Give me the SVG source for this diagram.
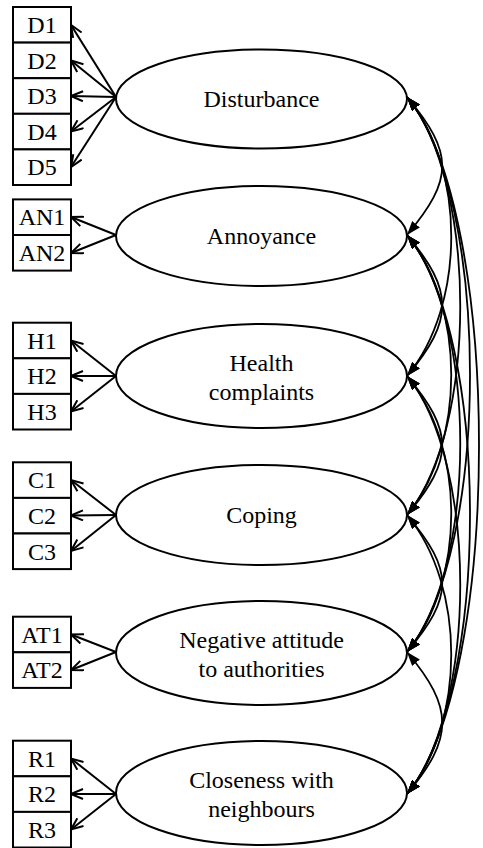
<svg xmlns="http://www.w3.org/2000/svg" width="483" height="848" viewBox="0 0 483 848">
<style>
.box{fill:#fff;stroke:#000;stroke-width:2}
.ell{fill:#fff;stroke:#000;stroke-width:2}
.t{font-family:'Liberation Serif','Times New Roman','DejaVu Serif',serif;font-size:24px;text-anchor:middle;fill:#000}
.load{fill:none;stroke:#000;stroke-width:2;marker-end:url(#open)}
.cov{fill:none;stroke:#000;stroke-width:1.8;marker-start:url(#solid);marker-end:url(#solid)}
</style>
<defs>
<marker id="open" viewBox="0 0 14 12" refX="13" refY="6" markerWidth="14" markerHeight="12" markerUnits="userSpaceOnUse" orient="auto">
<path d="M1,1 L13,6 L1,11" fill="none" stroke="#000" stroke-width="2"/>
</marker>
<marker id="solid" viewBox="0 0 14 10" refX="14" refY="5" markerWidth="14" markerHeight="10" markerUnits="userSpaceOnUse" orient="auto-start-reverse">
<path d="M0,0 L14,5 L0,10 z" fill="#000"/>
</marker>
</defs>

<g id="connectors">
<path class="load" d="M116,97 L71,25"/>
<path class="load" d="M116,97 L71,60.5"/>
<path class="load" d="M116,97 L71,96"/>
<path class="load" d="M116,97 L71,131.5"/>
<path class="load" d="M116,97 L71,167"/>
<path class="load" d="M116,235 L71,217"/>
<path class="load" d="M116,235 L71,253"/>
<path class="load" d="M116,376 L71,340.5"/>
<path class="load" d="M116,376 L71,376"/>
<path class="load" d="M116,376 L71,411.5"/>
<path class="load" d="M116,515 L71,480"/>
<path class="load" d="M116,515 L71,515.5"/>
<path class="load" d="M116,515 L71,551"/>
<path class="load" d="M116,652 L71,634.5"/>
<path class="load" d="M116,652 L71,670"/>
<path class="load" d="M116,794 L71,758.5"/>
<path class="load" d="M116,794 L71,794"/>
<path class="load" d="M116,794 L71,829.5"/>
<path class="cov" d="M407,97 C454,153 454,179 407,235"/>
<path class="cov" d="M407,97 C466,168 466,305 407,376"/>
<path class="cov" d="M407,97 C478,183 478,429 407,515"/>
<path class="cov" d="M407,97 C491,198 491,551 407,652"/>
<path class="cov" d="M407,97 C503,212 503,679 407,794"/>
<path class="cov" d="M407,235 C454,291 454,320 407,376"/>
<path class="cov" d="M407,235 C466,306 466,444 407,515"/>
<path class="cov" d="M407,235 C478,321 478,566 407,652"/>
<path class="cov" d="M407,235 C491,336 491,693 407,794"/>
<path class="cov" d="M407,376 C454,432 454,459 407,515"/>
<path class="cov" d="M407,376 C466,447 466,581 407,652"/>
<path class="cov" d="M407,376 C478,462 478,708 407,794"/>
<path class="cov" d="M407,515 C454,571 454,596 407,652"/>
<path class="cov" d="M407,515 C466,586 466,723 407,794"/>
<path class="cov" d="M407,652 C454,708 454,738 407,794"/>
</g>

<g font-family="Liberation Serif, Times New Roman, DejaVu Serif, serif">
<g id="D1"><rect class="box" x="13" y="7" width="58" height="35.6"/><text class="t" x="42" y="33">D1</text></g>
<g id="D2"><rect class="box" x="13" y="42.6" width="58" height="35.6"/><text class="t" x="42" y="68.6">D2</text></g>
<g id="D3"><rect class="box" x="13" y="78.2" width="58" height="35.6"/><text class="t" x="42" y="104.2">D3</text></g>
<g id="D4"><rect class="box" x="13" y="113.8" width="58" height="35.6"/><text class="t" x="42" y="139.8">D4</text></g>
<g id="D5"><rect class="box" x="13" y="149.4" width="58" height="35.6"/><text class="t" x="42" y="175.4">D5</text></g>

<g id="AN1"><rect class="box" x="13" y="199.4" width="58" height="35.6"/><text class="t" x="42" y="225.4">AN1</text></g>
<g id="AN2"><rect class="box" x="13" y="235" width="58" height="35.6"/><text class="t" x="42" y="261">AN2</text></g>

<g id="H1"><rect class="box" x="13" y="322.7" width="58" height="35.6"/><text class="t" x="42" y="348.7">H1</text></g>
<g id="H2"><rect class="box" x="13" y="358.3" width="58" height="35.6"/><text class="t" x="42" y="384.3">H2</text></g>
<g id="H3"><rect class="box" x="13" y="393.9" width="58" height="35.6"/><text class="t" x="42" y="419.9">H3</text></g>

<g id="C1"><rect class="box" x="13" y="462.3" width="58" height="35.6"/><text class="t" x="42" y="488.3">C1</text></g>
<g id="C2"><rect class="box" x="13" y="497.9" width="58" height="35.6"/><text class="t" x="42" y="523.9">C2</text></g>
<g id="C3"><rect class="box" x="13" y="533.5" width="58" height="35.6"/><text class="t" x="42" y="559.5">C3</text></g>

<g id="AT1"><rect class="box" x="13" y="616.7" width="58" height="35.6"/><text class="t" x="42" y="642.7">AT1</text></g>
<g id="AT2"><rect class="box" x="13" y="652.3" width="58" height="35.6"/><text class="t" x="42" y="678.3">AT2</text></g>

<g id="R1"><rect class="box" x="13" y="740.7" width="58" height="35.6"/><text class="t" x="42" y="766.7">R1</text></g>
<g id="R2"><rect class="box" x="13" y="776.3" width="58" height="35.6"/><text class="t" x="42" y="802.3">R2</text></g>
<g id="R3"><rect class="box" x="13" y="811.9" width="58" height="35.6"/><text class="t" x="42" y="837.9">R3</text></g>

<g id="Disturbance"><ellipse class="ell" cx="261.5" cy="99" rx="145.5" ry="49.5"/><text class="t" x="261.5" y="107">Disturbance</text></g>
<g id="Annoyance"><ellipse class="ell" cx="261.5" cy="236" rx="145.5" ry="50"/><text class="t" x="261.5" y="244">Annoyance</text></g>
<g id="Health"><ellipse class="ell" cx="261.5" cy="376" rx="145.5" ry="52"/><text class="t" x="261.5" y="371">Health</text><text class="t" x="261.5" y="400">complaints</text></g>
<g id="Coping"><ellipse class="ell" cx="261.5" cy="515" rx="145.5" ry="50"/><text class="t" x="261.5" y="523">Coping</text></g>
<g id="Attitude"><ellipse class="ell" cx="261.5" cy="653" rx="145.5" ry="52"/><text class="t" x="261.5" y="648">Negative attitude</text><text class="t" x="261.5" y="677">to authorities</text></g>
<g id="Closeness"><ellipse class="ell" cx="261.5" cy="793" rx="145.5" ry="52"/><text class="t" x="261.5" y="788">Closeness with</text><text class="t" x="261.5" y="817">neighbours</text></g>
</g>
</svg>
